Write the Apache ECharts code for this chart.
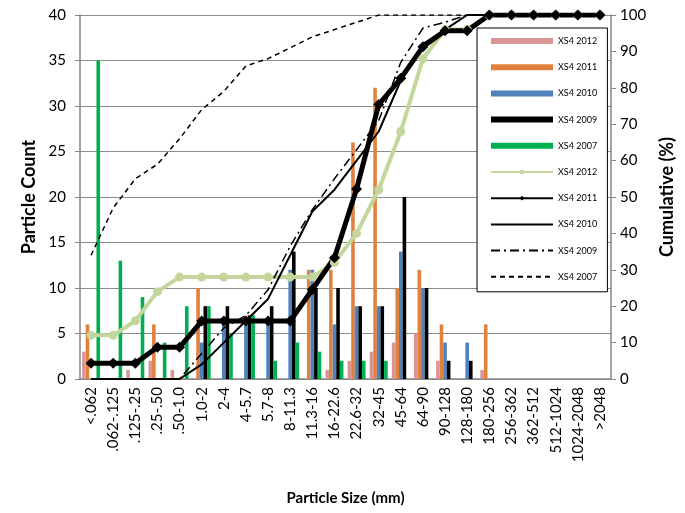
<!DOCTYPE html>
<html>
<head>
<meta charset="utf-8">
<script src="https://cdn.jsdelivr.net/npm/echarts@6/dist/echarts.min.js"></script>
<style>
  html, body { margin: 0; padding: 0; background: #fff; }
  #chart { width: 685px; height: 513px; }
</style>
</head>
<body>
<div id="chart"></div>
<script>
const sizeClasses = ['<.062', '.062-.125', '.125-.25', '.25-.50', '.50-1.0', '1.0-2', '2-4', '4-5.7',
  '5.7-8', '8-11.3', '11.3-16', '16-22.6', '22.6-32', '32-45', '45-64', '64-90', '90-128',
  '128-180', '180-256', '256-362', '362-512', '512-1024', '1024-2048', '>2048']

// particle counts (left axis)
const count2012 = [3, 0, 1, 2, 1, 0, 0, 0, 0, 0, 0, 1, 2, 3, 4, 5, 2, 0, 1, 0, 0, 0, 0, 0]
const count2011 = [6, 0, 0, 6, 0, 10, 0, 0, 0, 0, 12, 12, 26, 32, 10, 12, 6, 0, 6, 0, 0, 0, 0, 0]
const count2010 = [0, 0, 0, 0, 0, 4, 6, 6, 6, 12, 12, 6, 8, 8, 14, 10, 4, 4, 0, 0, 0, 0, 0, 0]
const count2009 = [0, 0, 0, 0, 0, 8, 8, 7, 8, 14, 10, 10, 8, 8, 20, 10, 2, 2, 0, 0, 0, 0, 0, 0]
const count2007 = [35, 13, 9, 4, 8, 8, 5, 7, 2, 4, 3, 2, 2, 2, 0, 0, 0, 0, 0, 0, 0, 0, 0, 0]

// cumulative percent (right axis)
const cum2012 = [12, 12, 16, 24, 28, 28, 28, 28, 28, 28, 28, 32, 40, 52, 68, 88, 96, 96, 100, 100, 100, 100, 100, 100]
const cum2011 = [4.3, 4.3, 4.3, 8.7, 8.7, 15.9, 15.9, 15.9, 15.9, 15.9, 24.6, 33.3, 52.2, 75.4, 82.6, 91.3, 95.7, 95.7, 100, 100, 100, 100, 100, 100]
const cum2010 = [0, 0, 0, 0, 0, 4, 10, 16, 22, 34, 46, 52, 60, 68, 82, 92, 96, 100, 100, 100, 100, 100, 100, 100]
const cum2009 = [0, 0, 0, 0, 0, 7, 14, 17.5, 24.5, 36.5, 46.5, 55, 63, 71, 87, 96.4, 98, 100, 100, 100, 100, 100, 100, 100]
const cum2007 = [34, 47, 55, 59, 66, 74, 79, 86, 88, 91, 94, 96, 98, 100, 100, 100, 100, 100, 100, 100, 100, 100, 100, 100]

const countTicks = [0, 40, 5]
const cumTicks = [0, 100, 10]

const font = 'Lato, "Liberation Sans", sans-serif'
const axisGray = '#868686'

const bar = (name, data, color) => ({
  name,
  type: 'bar',
  data,
  barWidth: 3.6,
  barGap: '0%',
  itemStyle: { color },
  z: 1,
})

// plain lines get a see-through symbol colour so the legend shows only the stroke
const cumLine = (name, data, extra) => ({
  name,
  type: 'line',
  yAxisIndex: 1,
  data,
  symbol: 'none',
  itemStyle: { color: 'rgba(0,0,0,0)' },
  z: 3,
  ...extra,
})

const chart = echarts.init(document.getElementById('chart'))

chart.setOption({
  backgroundColor: '#ffffff',
  animation: false,
  textStyle: { fontFamily: font },
  grid: { left: 80, right: 74, top: 15, bottom: 134, outerBoundsMode: 'none' },
  legend: {
    orient: 'vertical',
    left: 477,
    top: 28,
    width: 128,
    padding: [7, 8, 9, 13],
    itemWidth: 62,
    itemHeight: 6,
    itemGap: 14.2,
    backgroundColor: '#fff',
    borderColor: '#000',
    borderWidth: 1,
    textStyle: { fontFamily: font, fontSize: 9, color: '#000', lineHeight: 12 },
    data: [
      { name: 'XS4 2012', icon: 'rect' },
      { name: 'XS4 2011', icon: 'rect' },
      { name: 'XS4 2010', icon: 'rect' },
      { name: 'XS4 2009', icon: 'rect' },
      { name: 'XS4 2007', icon: 'rect' },
      'XS4 2012 ',
      'XS4 2011 ',
      'XS4 2010 ',
      'XS4 2009 ',
      'XS4 2007 ',
    ],
  },
  xAxis: {
    type: 'category',
    data: sizeClasses,
    name: 'Particle Size (mm)',
    nameLocation: 'middle',
    nameGap: 112,
    nameTextStyle: { fontSize: 15, fontWeight: 'bold', color: '#000' },
    axisLine: { lineStyle: { color: axisGray, width: 1.5 } },
    axisTick: { interval: 0, length: 5, lineStyle: { color: axisGray } },
    axisLabel: { interval: 0, rotate: 90, fontSize: 15, color: '#000', margin: 8 },
  },
  yAxis: [
    {
      type: 'value',
      min: countTicks[0],
      max: countTicks[1],
      interval: countTicks[2],
      name: 'Particle Count',
      nameLocation: 'middle',
      nameRotate: 90,
      nameGap: 32,
      nameTextStyle: { fontSize: 18, fontWeight: 'bold', color: '#000' },
      axisLine: { show: true, lineStyle: { color: axisGray, width: 1.5 } },
      axisTick: { show: true, length: 5, lineStyle: { color: axisGray } },
      axisLabel: { fontSize: 15, color: '#000', margin: 14 },
      splitLine: { lineStyle: { color: '#8c8c8c', width: 1.2 } },
    },
    {
      type: 'value',
      min: cumTicks[0],
      max: cumTicks[1],
      interval: cumTicks[2],
      name: 'Cumulative (%)',
      nameLocation: 'middle',
      nameRotate: 90,
      nameGap: 47,
      nameTextStyle: { fontSize: 18, fontWeight: 'bold', color: '#000' },
      axisLine: { show: true, lineStyle: { color: axisGray, width: 1.5 } },
      axisTick: { show: true, length: 5, lineStyle: { color: axisGray } },
      axisLabel: { fontSize: 15, color: '#000', margin: 9 },
      splitLine: { show: false },
    },
  ],
  series: [
    bar('XS4 2012', count2012, '#d99694'),
    bar('XS4 2011', count2011, '#e0823d'),
    bar('XS4 2010', count2010, '#4f81bd'),
    bar('XS4 2009', count2009, '#000000'),
    bar('XS4 2007', count2007, '#00b050'),
    cumLine('XS4 2012 ', cum2012, {
      symbol: 'circle',
      symbolSize: 9,
      itemStyle: { color: '#c3d69b' },
      lineStyle: { color: '#c3d69b', width: 4 },
    }),
    cumLine('XS4 2011 ', cum2011, {
      symbol: 'diamond',
      symbolSize: 11,
      itemStyle: { color: '#000' },
      lineStyle: { color: '#000', width: 5 },
    }),
    cumLine('XS4 2010 ', cum2010, {
      lineStyle: { color: '#000', width: 2 },
    }),
    cumLine('XS4 2009 ', cum2009, {
      lineStyle: { color: '#000', width: 1.5, type: [9, 4, 2, 4] },
    }),
    cumLine('XS4 2007 ', cum2007, {
      lineStyle: { color: '#000', width: 1.5, type: [5, 4] },
    }),
  ],
})
</script>
</body>
</html>
